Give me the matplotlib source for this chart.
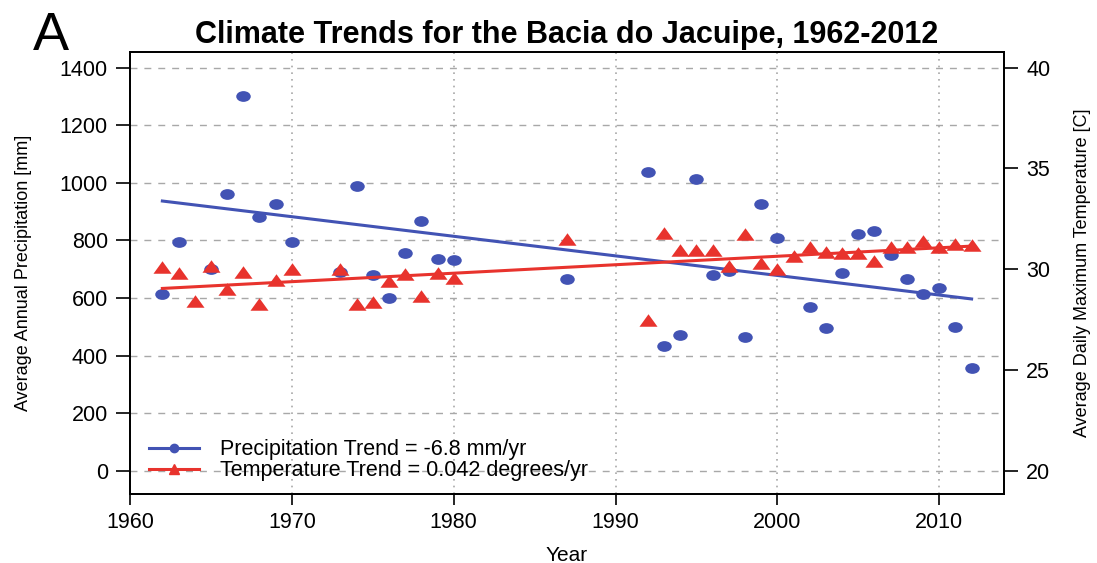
import matplotlib
matplotlib.use('Agg')
import matplotlib.pyplot as plt
import numpy as np
from matplotlib.lines import Line2D
from matplotlib.markers import MarkerStyle
from matplotlib.transforms import Affine2D

plt.rcParams['font.family'] = ['Liberation Sans', 'DejaVu Sans']

# annual series, Bacia do Jacuipe
years_precip = [1962, 1963, 1965, 1966, 1967, 1968, 1969, 1970, 1973, 1974, 1975, 1976, 1977,
                1978, 1979, 1980, 1987, 1992, 1993, 1994, 1995, 1996, 1997, 1998, 1999, 2000,
                2002, 2003, 2004, 2005, 2006, 2007, 2008, 2009, 2010, 2011, 2012]
precip = [615, 795, 700, 960, 1300, 882, 927, 795, 689, 988, 680, 602, 757,
          867, 736, 732, 665, 1038, 435, 472, 1012, 681, 695, 465, 926, 810,
          568, 497, 688, 822, 833, 749, 668, 614, 636, 500, 358]

years_temp = [1962, 1963, 1964, 1965, 1966, 1967, 1968, 1969, 1970, 1973, 1974, 1975, 1976,
              1977, 1978, 1979, 1980, 1987, 1992, 1993, 1994, 1995, 1996, 1997, 1998, 1999,
              2000, 2001, 2002, 2003, 2004, 2005, 2006, 2007, 2008, 2009, 2010, 2011, 2012]
tmax = [30.1, 29.84, 28.44, 30.17, 29.03, 29.87, 28.27, 29.46, 29.99, 29.99, 28.3, 28.36, 29.4,
        29.76, 28.67, 29.82, 29.55, 31.48, 27.48, 31.8, 30.98, 30.98, 30.98, 30.16, 31.74, 30.29,
        30.03, 30.65, 31.11, 30.86, 30.79, 30.82, 30.42, 31.09, 31.09, 31.42, 31.11, 31.24, 31.19]

# linear trends (value at 1962, slope per year)
precip_start, precip_slope = 937, -6.8
temp_start, temp_slope = 29.05, 0.042

blue = '#4253b4'
red = '#e8332d'

fig = plt.figure(figsize=(10.97, 5.63), dpi=100)
ax = fig.add_axes([0.1185, 0.1226, 0.7967, 0.7859])
ax2 = ax.twinx()

ax.set_xlim(1960, 2014)
ax.set_ylim(-80, 1456)
ax2.set_ylim(20 - 80 / 70, 20 + 1456 / 70)

# grid
for v in range(0, 1401, 200):
    ax.axhline(v, color='#a8a8a8', lw=1, ls=(0, (5, 5)), zorder=0)
for yr in range(1960, 2011, 10):
    ax.axvline(yr, color='#a8a8a8', lw=1.2, ls=(0, (1, 3)), zorder=0)

circle = MarkerStyle('o', transform=Affine2D().scale(1.35, 1.0))
tri = MarkerStyle('^', transform=Affine2D().scale(1.3, 0.9))

trend_years = np.array([1962, 2012])
ax.plot(trend_years, precip_start + precip_slope * (trend_years - 1962), color=blue, lw=2.2, zorder=2)
ax.scatter(years_precip, precip, marker=circle, s=60, color=blue, linewidths=0, zorder=3)

ax2.plot(trend_years, temp_start + temp_slope * (trend_years - 1962), color=red, lw=2.2, zorder=2)
ax2.scatter(years_temp, tmax, marker=tri, s=100, color=red, linewidths=0, zorder=3)

ax.set_xticks(range(1960, 2011, 10))
ax.set_yticks(range(0, 1401, 200))
ax2.set_yticks(range(20, 41, 5))
for a in (ax, ax2):
    a.tick_params(axis='both', direction='out', length=10, width=1.2, labelsize=15.5, pad=6)
    for s in a.spines.values():
        s.set_linewidth(1.3)
ax.tick_params(axis='x', length=8, pad=5)

ax.set_xlabel('Year', fontsize=15, labelpad=9)
ax.set_ylabel('Average Annual Precipitation [mm]', fontsize=13, labelpad=20)
ax2.set_ylabel('Average Daily Maximum Temperature [C]', fontsize=13, labelpad=17)
ax.set_title('Climate Trends for the Bacia do Jacuipe, 1962-2012', fontsize=22,
             fontweight='bold', pad=6)
fig.text(0.03, 0.912, 'A', fontsize=39)

handles = [Line2D([], [], color=blue, lw=2.2, marker='o', markersize=6),
           Line2D([], [], color=red, lw=2.2, marker='^', markersize=7)]
labels = ['Precipitation Trend = %.1f mm/yr' % precip_slope,
          'Temperature Trend = %.3f degrees/yr' % temp_slope]
ax.legend(handles, labels, loc='lower left', bbox_to_anchor=(0.005, -0.005), frameon=False,
          fontsize=15.5, numpoints=1, handlelength=2.3, handletextpad=1.0, labelspacing=0.0,
          borderaxespad=0.3)

fig.savefig('out.png', dpi=100)
